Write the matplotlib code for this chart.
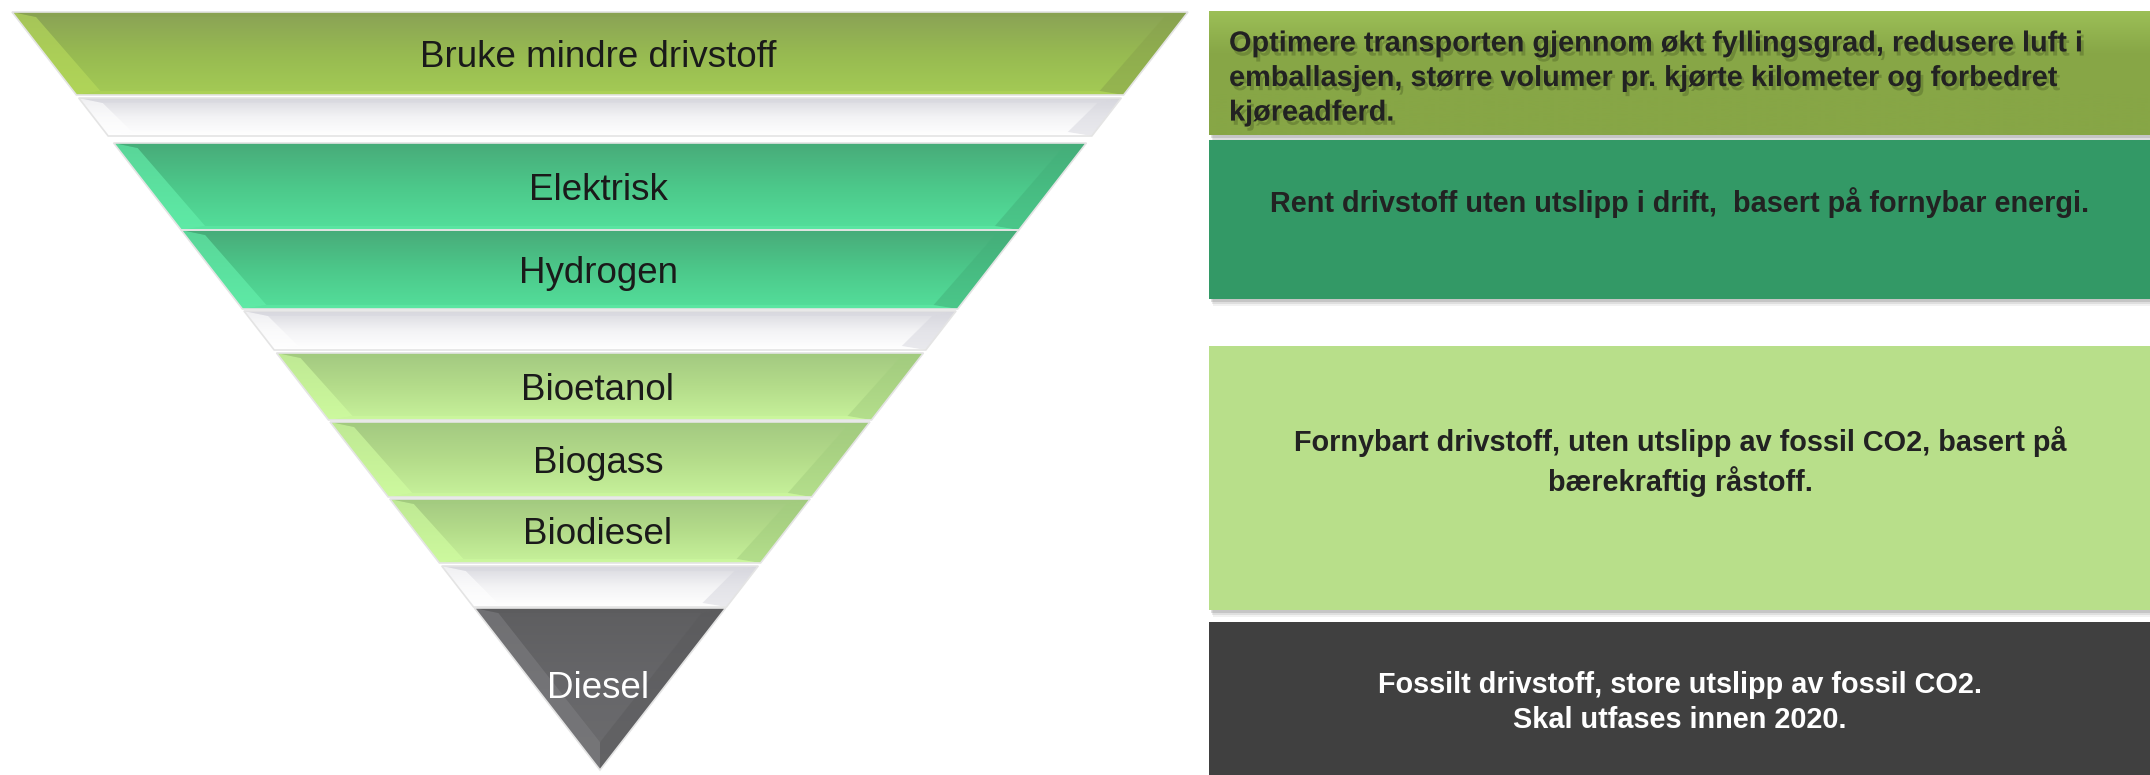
import numpy as np
import matplotlib
matplotlib.use('Agg')
import matplotlib.pyplot as plt
from matplotlib.patches import Polygon, Rectangle
from matplotlib.colors import LinearSegmentedColormap
import matplotlib.patheffects as pe

plt.rcParams['font.family'] = ['Liberation Sans', 'DejaVu Sans']

# innhold i trakten (ovenfra og ned), tomme felt er hvite skillelag
funnel_labels = ['Bruke mindre drivstoff', '', 'Elektrisk', 'Hydrogen', '',
                 'Bioetanol', 'Biogass', 'Biodiesel', '', 'Diesel']
funnel_groups = ['olive', 'white', 'green', 'green', 'white',
                 'bio', 'bio', 'bio', 'white', 'diesel']

# beskrivelser til høyre
panel_texts = [
    'Optimere transporten gjennom økt fyllingsgrad, redusere luft i\n'
    'emballasjen, større volumer pr. kjørte kilometer og forbedret\n'
    'kjøreadferd.',
    'Rent drivstoff uten utslipp i drift,  basert på fornybar energi.',
    'Fornybart drivstoff, uten utslipp av fossil CO2, basert på\n'
    'bærekraftig råstoff.',
    'Fossilt drivstoff, store utslipp av fossil CO2.\n'
    'Skal utfases innen 2020.',
]
panel_groups = ['olive', 'green', 'bio', 'diesel']

# layout (piksler)
band_y = [(12, 95), (98, 136), (143, 230), (230, 309), (311, 350),
          (353, 420), (422, 497), (499, 563), (566, 607), (608, 770)]
apex_x, apex_y = 600, 770
slope = 588 / 758.
panel_y = [(11, 135), (140, 299), (346, 610), (622, 800)]
panel_x0, panel_x1 = 1209, 2160

# farger: (gradient topp->bunn, lys kant, mørk kant)
styles = {
    'olive': (['#8aa256', '#97ba51', '#a4cb55'], '#b9dc5c', '#88a24c'),
    'green': (['#48ab79', '#4cc88a', '#54df9b'], '#66f2ae', '#43b07a'),
    'bio': (['#a3c981', '#b4dc8a', '#c7f29b'], '#d2ffa2', '#a2cd7e'),
    'white': (['#d9d9df', '#f3f3f5', '#ffffff'], '#ffffff', '#d5d5dd'),
    'diesel': (['#5e5e60', '#67676a', '#6c6c6e'], '#7d7d80', '#5a5a5c'),
}
panel_colors = {'olive': '#87a646', 'green': '#339966', 'bio': '#b8df8a', 'diesel': '#404040'}


def half_w(y):
    return (apex_y - y) * slope


def grad_fill(ax, patch, colors, z, ext):
    cmap = LinearSegmentedColormap.from_list('g', colors)
    img = np.linspace(0, 1, 256).reshape(-1, 1)
    im = ax.imshow(img, cmap=cmap, aspect='auto', origin='upper', zorder=z,
                   extent=ext, interpolation='bilinear')
    im.set_clip_path(patch)


fig = plt.figure(figsize=(21.5, 7.75), dpi=100)
ax = fig.add_axes([0, 0, 1, 1])

bw, bt, bb = 24, 5, 4
for (top, bot), lab, grp in zip(band_y, funnel_labels, funnel_groups):
    grad, light, dark = styles[grp]
    ht, hb = half_w(top), half_w(bot)
    TL, TR = (apex_x - ht, top), (apex_x + ht, top)
    BL, BR = (apex_x - hb, bot), (apex_x + hb, bot)
    outer = Polygon([TL, TR, BR, BL], closed=True, facecolor='none',
                    edgecolor='#e4e4e4', lw=1.2, zorder=2)
    ax.add_patch(outer)
    grad_fill(ax, outer, grad, 1, (TL[0], TR[0], bot, top))
    iTL, iTR = (TL[0] + bw, top + bt), (TR[0] - bw, top + bt)
    if hb > bw:
        iBL, iBR = (BL[0] + bw, bot - bb), (BR[0] - bw, bot - bb)
    else:
        iBL = iBR = (apex_x, bot - bw / slope * 0.9)
    # skråkanter
    ax.add_patch(Polygon([TL, iTL, iBL, BL], closed=True, facecolor=light,
                         alpha=0.6, lw=0, zorder=1.5))
    ax.add_patch(Polygon([TR, BR, iBR, iTR], closed=True, facecolor=dark,
                         alpha=0.5, lw=0, zorder=1.5))
    ax.add_patch(Polygon([TL, TR, iTR, iTL], closed=True, facecolor=dark,
                         alpha=0.4, lw=0, zorder=1.5))
    if hb > bw:
        ax.add_patch(Polygon([BL, iBL, iBR, BR], closed=True, facecolor=light,
                             alpha=0.4, lw=0, zorder=1.5))
    if lab:
        tc = 'white' if grp == 'diesel' else '#1a1a1a'
        ty = 688 if grp == 'diesel' else (top + bot) / 2 + 4
        ax.text(apex_x - 2, ty, lab, ha='center', va='center',
                fontsize=26.5, color=tc, zorder=5)

# paneler til høyre
for (top, bot), txt, grp in zip(panel_y, panel_texts, panel_groups):
    for k, a in zip([7, 5, 3], [0.08, 0.12, 0.18]):
        ax.add_patch(Rectangle((panel_x0 + k * 0.6, top + k), panel_x1 - panel_x0, bot - top,
                               facecolor='#555555', alpha=a, lw=0, zorder=1))
    rect = Rectangle((panel_x0, top), panel_x1 - panel_x0, bot - top,
                     facecolor=panel_colors[grp], lw=0, zorder=2)
    ax.add_patch(rect)
    if grp == 'olive':
        grad_fill(ax, rect, ['#9cbf57', '#88a747', '#87a646', '#87a646'], 2.1,
                  (panel_x0, panel_x1, bot, top))
        ax.text(1229, (top + bot) / 2 + 5, txt, ha='left', va='center',
                fontsize=20.8, fontweight='bold', color='#222222', linespacing=1.3,
                zorder=5, path_effects=[pe.SimplePatchShadow(offset=(2, -3), shadow_rgbFace='#3a4a1a', alpha=0.3),
                                        pe.Normal()])
    else:
        tc = 'white' if grp == 'diesel' else '#222222'
        cy = {'green': 203, 'bio': 461.5, 'diesel': 702.5}[grp]
        ax.text(1680, cy, txt, ha='center', va='center', fontsize=20.8,
                fontweight='bold', color=tc, linespacing=1.36, zorder=5)

ax.set_xlim(0, 2150)
ax.set_ylim(775, 0)
ax.axis('off')
fig.savefig('out.png', dpi=100, facecolor='white')
